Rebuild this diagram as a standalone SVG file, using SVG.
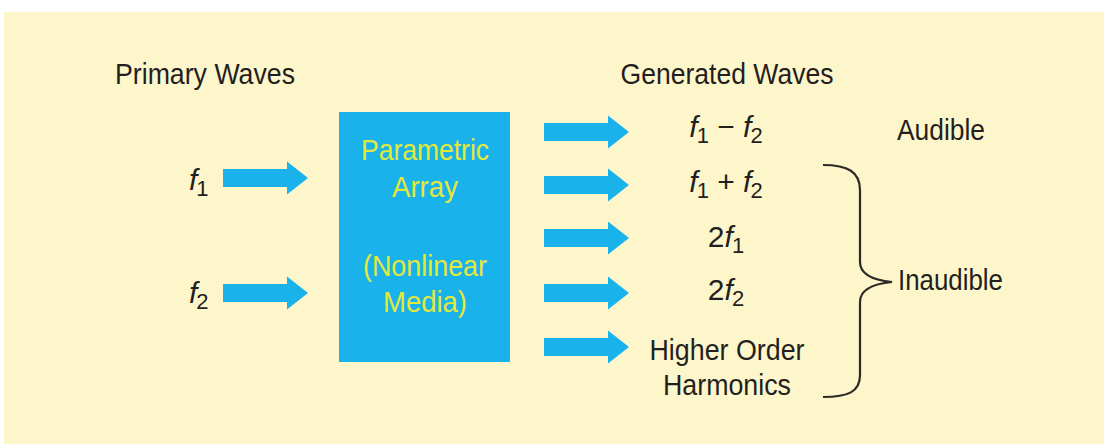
<svg xmlns="http://www.w3.org/2000/svg" xmlns:xlink="http://www.w3.org/1999/xlink" width="1104" height="444" viewBox="0 0 1104 444">
<style>
.t{font-family:"Liberation Sans",Arial,sans-serif;font-size:30px;fill:#231f20}
.b{font-family:"Liberation Sans",Arial,sans-serif;font-size:29px;fill:#e4e83a}
.i{font-style:italic}
.s{font-size:22px}
.arrow{fill:#1ab2ea}
.brace{fill:none;stroke:#2b2a26;stroke-width:2.2}
</style>
<defs>
<path id="arr" d="M0,-9 H64 V-16.5 L85,0 L64,16.5 V9 H0 Z"/>
</defs>
<rect x="0" y="0" width="1104" height="444" fill="#ffffff"/>
<rect x="4" y="12" width="1100" height="432" fill="#fef6cb"/>
<g id="titles">
<text class="t" x="205" y="84" text-anchor="middle" textLength="180" lengthAdjust="spacingAndGlyphs">Primary Waves</text>
<text class="t" x="727" y="84" text-anchor="middle" textLength="213" lengthAdjust="spacingAndGlyphs">Generated Waves</text>
</g>
<g id="input-f1"><text class="t" x="189" y="190"><tspan class="i">f</tspan><tspan class="s" dx="-1" dy="6">1</tspan></text></g>
<g id="input-f2"><text class="t" x="189" y="303"><tspan class="i">f</tspan><tspan class="s" dx="-1" dy="6">2</tspan></text></g>
<g id="parametric-array">
<rect x="339" y="112" width="171" height="250" fill="#1ab2ea"/>
<text class="b" x="425" y="160" text-anchor="middle" textLength="128" lengthAdjust="spacingAndGlyphs">Parametric</text>
<text class="b" x="425" y="197" text-anchor="middle" textLength="66" lengthAdjust="spacingAndGlyphs">Array</text>
<text class="b" x="425" y="276" text-anchor="middle" textLength="124" lengthAdjust="spacingAndGlyphs">(Nonlinear</text>
<text class="b" x="425" y="312" text-anchor="middle" textLength="84" lengthAdjust="spacingAndGlyphs">Media)</text>
</g>
<g id="out-diff"><text class="t" x="726" y="137" text-anchor="middle"><tspan class="i">f</tspan><tspan class="s" dx="-1" dy="6">1</tspan><tspan dy="-6"> − </tspan><tspan class="i">f</tspan><tspan class="s" dx="-1" dy="6">2</tspan></text></g>
<g id="out-sum"><text class="t" x="726" y="192" text-anchor="middle"><tspan class="i">f</tspan><tspan class="s" dx="-1" dy="6">1</tspan><tspan dy="-6"> + </tspan><tspan class="i">f</tspan><tspan class="s" dx="-1" dy="6">2</tspan></text></g>
<g id="out-2f1"><text class="t" x="726" y="247" text-anchor="middle">2<tspan class="i">f</tspan><tspan class="s" dx="-1" dy="6">1</tspan></text></g>
<g id="out-2f2"><text class="t" x="726" y="300" text-anchor="middle">2<tspan class="i">f</tspan><tspan class="s" dx="-1" dy="6">2</tspan></text></g>
<g id="out-harmonics">
<text class="t" x="727" y="360" text-anchor="middle" textLength="155" lengthAdjust="spacingAndGlyphs">Higher Order</text>
<text class="t" x="727" y="395" text-anchor="middle" textLength="128" lengthAdjust="spacingAndGlyphs">Harmonics</text>
</g>
<g id="audible"><text class="t" x="941" y="140" text-anchor="middle" textLength="88" lengthAdjust="spacingAndGlyphs">Audible</text></g>
<g id="inaudible"><text class="t" x="898" y="290" textLength="105" lengthAdjust="spacingAndGlyphs">Inaudible</text></g>
<g id="connectors">
<use xlink:href="#arr" class="arrow" x="223" y="178"/>
<use xlink:href="#arr" class="arrow" x="223" y="293"/>
<use xlink:href="#arr" class="arrow" x="544" y="132"/>
<use xlink:href="#arr" class="arrow" x="544" y="185"/>
<use xlink:href="#arr" class="arrow" x="544" y="238"/>
<use xlink:href="#arr" class="arrow" x="544" y="293"/>
<use xlink:href="#arr" class="arrow" x="544" y="347"/>
<path class="brace" d="M823,165 C848,165 860,172 860,190 V262 C860,274 872,280 892,282 C872,284 860,290 860,302 V375 C860,392 848,397 823,397"/>
</g>
</svg>
